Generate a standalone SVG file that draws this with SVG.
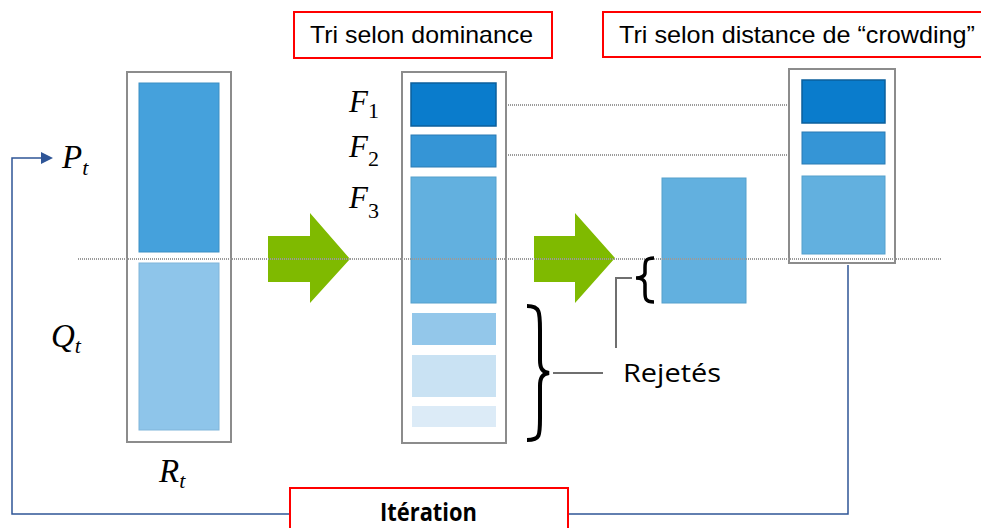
<svg xmlns="http://www.w3.org/2000/svg" width="981" height="528" viewBox="0 0 981 528">
<style>
.outer{fill:#fff;stroke:#8c8c8c;stroke-width:2}
.dot{stroke:#9a9a9a;stroke-width:2;stroke-dasharray:1 1;fill:none}
.math{font-family:"Liberation Serif","DejaVu Serif",serif;font-style:italic;fill:#000}
.lbl{fill:#fff;stroke:#ff0000;stroke-width:2}
.lt{font-family:"Liberation Sans",Arial,sans-serif;font-size:24px;fill:#000}
.green{fill:#7fba00}
.loop{stroke:#2f5597;stroke-width:1.5;fill:none}
.gray{stroke:#6f6f6f;stroke-width:2;fill:none}
</style>
<rect width="981" height="528" fill="#fff"/>
<g id="connectors">
<path class="loop" d="M848,265V514H12V158H44"/>
<path d="M41,152L53,158L41,164z" fill="#2f5597"/>
<line class="dot" x1="496" y1="105" x2="790" y2="105"/>
<line class="dot" x1="496" y1="155" x2="790" y2="155"/>
<path class="green" d="M268,236H310V213L350,259L310,303V282H268z"/>
<path class="green" d="M534,236H575V213L615,258L575,303V282H534z"/>
<path class="gray" d="M632,278H616V348"/>
<line class="gray" x1="553" y1="373" x2="603" y2="373"/>
</g>
<g id="node-Rt">
<rect class="outer" x="127" y="72" width="104" height="370"/>
<rect x="139" y="83" width="80" height="169" fill="#45a1dc" stroke="#3d8fc4" stroke-width="1"/>
<rect x="139" y="263" width="80" height="167" fill="#8ec5ea" stroke="#80b5da" stroke-width="1"/>
</g>
<g id="node-sorted">
<rect class="outer" x="402" y="72" width="104" height="371"/>
<rect x="411" y="83" width="85" height="43" fill="#0a7ccc" stroke="#0b5f9c" stroke-width="1.5"/>
<rect x="411" y="135" width="85" height="32" fill="#3595d6" stroke="#2b7bb3" stroke-width="1"/>
<rect x="411" y="177" width="85" height="126" fill="#62b0df" stroke="#55a0cc" stroke-width="1"/>
<rect x="412" y="313" width="84" height="32" fill="#93c7ea"/>
<rect x="412" y="355" width="84" height="42" fill="#c9e2f3"/>
<rect x="412" y="406" width="84" height="21" fill="#dcebf7"/>
</g>
<g id="node-F3split">
<rect x="662" y="178" width="84" height="125" fill="#62b0df" stroke="#55a0cc" stroke-width="1"/>
</g>
<g id="node-Pt1">
<rect class="outer" x="789" y="69" width="106" height="194"/>
<rect x="802" y="80" width="83" height="43" fill="#0a7ccc" stroke="#0b5f9c" stroke-width="1.5"/>
<rect x="802" y="132" width="83" height="32" fill="#3595d6" stroke="#2b7bb3" stroke-width="1"/>
<rect x="802" y="176" width="83" height="78" fill="#62b0df" stroke="#55a0cc" stroke-width="1"/>
</g>
<line class="dot" x1="78" y1="259" x2="942" y2="259"/>
<g id="braces">
<path d="M527,306C540,306 540,312 540,330V360C540,368 542,372 549,373C542,374 540,378 540,386V418C540,436 540,440 527,440" fill="none" stroke="#000" stroke-width="4"/>
<path d="M654,258C645,258 645,262 645,268V273C645,276 641,278 636,278C641,278 645,280 645,284V292C645,298 645,302 654,302" fill="none" stroke="#000" stroke-width="3.5"/>
</g>
<g id="math-labels">
<text class="math" x="62" y="168" font-size="33">P<tspan font-size="22" dy="7">t</tspan></text>
<text class="math" x="51" y="347" font-size="33">Q<tspan font-size="22" dy="6">t</tspan></text>
<text class="math" x="159" y="482" font-size="33">R<tspan font-size="22" dy="6">t</tspan></text>
<text class="math" x="349" y="112" font-size="31">F<tspan font-style="normal" font-size="22" dy="6">1</tspan></text>
<text class="math" x="349" y="157" font-size="31">F<tspan font-style="normal" font-size="22" dy="9">2</tspan></text>
<text class="math" x="349" y="208" font-size="31">F<tspan font-style="normal" font-size="22" dy="10">3</tspan></text>
</g>
<text x="623" y="382" font-family="'Open Sans','Noto Sans',sans-serif" font-size="26" textLength="98" lengthAdjust="spacingAndGlyphs" fill="#000">Rejetés</text>
<g id="label-dominance">
<rect class="lbl" x="294" y="12" width="258" height="46"/>
<text class="lt" x="310" y="43" textLength="223" lengthAdjust="spacingAndGlyphs">Tri selon dominance</text>
</g>
<g id="label-crowding">
<rect class="lbl" x="603" y="12" width="390" height="45"/>
<text class="lt" x="619" y="43" textLength="356" lengthAdjust="spacingAndGlyphs">Tri selon distance de “crowding”</text>
</g>
<g id="label-iteration">
<rect class="lbl" x="290" y="488" width="278" height="50"/>
<text x="380" y="521" font-family="'Open Sans','Liberation Sans',sans-serif" font-weight="bold" font-size="25" textLength="97" lengthAdjust="spacingAndGlyphs" fill="#000">Itération</text>
</g>
</svg>
